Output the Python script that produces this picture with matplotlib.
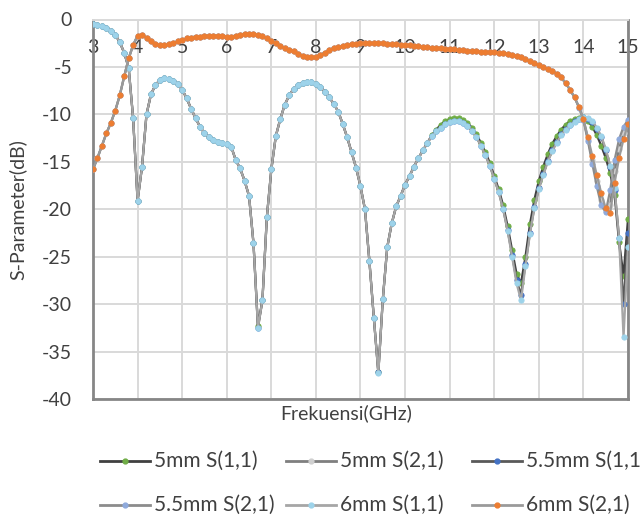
import matplotlib
matplotlib.use("Agg")
import matplotlib.pyplot as plt
from matplotlib.lines import Line2D
import numpy as np

plt.rcParams["font.family"] = ["Lato", "DejaVu Sans"]

# frequency grid (GHz), 0.1 GHz steps from 3 to 15
freq = np.round(np.arange(3.0, 15.0001, 0.1), 1)

s11_5mm = [
    -0.5, -0.6, -0.7, -0.9, -1.2, -1.6, -2.4, -3.5, -5.1, -10.4,
    -19.1, -15.5, -10.0, -7.9, -6.9, -6.4, -6.2, -6.3, -6.5, -6.8,
    -7.4, -8.3, -9.4, -10.4, -11.3, -12.0, -12.4, -12.7, -12.9, -13.0,
    -13.1, -13.4, -14.8, -15.7, -17.0, -18.6, -23.6, -32.3, -29.6, -20.8,
    -15.8, -12.3, -10.5, -9.0, -8.0, -7.3, -6.9, -6.7, -6.6, -6.6,
    -6.8, -7.1, -7.6, -8.2, -8.9, -9.7, -11.0, -12.4, -14.0, -15.6,
    -17.6, -20.0, -25.5, -31.5, -37.2, -29.5, -24.0, -21.5, -19.7, -18.6,
    -17.4, -16.5, -15.5, -14.6, -13.8, -13.0, -12.2, -11.6, -11.1, -10.7,
    -10.5, -10.4, -10.4, -10.6, -10.9, -11.4, -12.1, -13.0, -14.0, -15.1,
    -16.5, -17.9, -19.6, -21.8, -24.3, -26.8, -27.8, -25.0, -21.6, -19.0,
    -17.0, -15.5, -14.2, -13.1, -12.3, -11.6, -11.1, -10.7, -10.5, -10.4,
    -10.3, -10.7, -11.3, -12.2, -13.3, -14.6, -16.2, -18.5, -23.5, -27.0,
    -21.0,
]

s21_5mm = [
    -15.8, -14.6, -13.3, -12.0, -10.9, -9.6, -8.0, -6.0, -4.1, -2.7,
    -1.7, -1.6, -1.9, -2.3, -2.6, -2.7, -2.7, -2.6, -2.5, -2.3,
    -2.2, -2.0, -1.9, -1.8, -1.8, -1.7, -1.7, -1.7, -1.7, -1.7,
    -1.8, -1.8, -1.7, -1.6, -1.5, -1.5, -1.5, -1.6, -1.7, -2.0,
    -2.3, -2.5, -2.8, -3.0, -3.2, -3.3, -3.6, -3.8, -4.0, -4.0,
    -3.9, -3.7, -3.5, -3.2, -3.0, -2.9, -2.8, -2.7, -2.6, -2.6,
    -2.5, -2.5, -2.5, -2.5, -2.5, -2.5, -2.6, -2.6, -2.6, -2.7,
    -2.7, -2.7, -2.8, -2.8, -2.9, -2.9, -3.0, -3.0, -3.0, -3.1,
    -3.1, -3.1, -3.2, -3.2, -3.3, -3.3, -3.3, -3.4, -3.4, -3.4,
    -3.4, -3.5, -3.5, -3.6, -3.7, -3.8, -4.0, -4.2, -4.4, -4.6,
    -4.8, -5.0, -5.2, -5.4, -5.7, -6.1, -6.7, -7.4, -8.2, -9.2,
    -10.5, -12.6, -14.8, -17.0, -19.0, -20.2, -19.5, -16.0, -13.6, -12.0,
    -10.8,
]

s11_55mm = [
    -0.5, -0.6, -0.7, -0.9, -1.2, -1.6, -2.4, -3.5, -5.1, -10.4,
    -19.1, -15.5, -10.0, -7.9, -6.9, -6.4, -6.2, -6.3, -6.5, -6.8,
    -7.4, -8.3, -9.4, -10.4, -11.3, -12.0, -12.4, -12.7, -12.9, -13.0,
    -13.1, -13.4, -14.8, -15.7, -17.0, -18.6, -23.6, -32.5, -29.6, -20.8,
    -15.8, -12.3, -10.5, -9.0, -8.0, -7.3, -6.9, -6.7, -6.6, -6.6,
    -6.8, -7.1, -7.6, -8.2, -8.9, -9.7, -11.0, -12.4, -14.0, -15.6,
    -17.6, -20.0, -25.5, -31.5, -37.2, -29.5, -24.0, -21.5, -19.7, -18.6,
    -17.4, -16.5, -15.5, -14.6, -13.8, -13.0, -12.3, -11.8, -11.4, -11.0,
    -10.8, -10.7, -10.7, -10.9, -11.2, -11.7, -12.4, -13.3, -14.3, -15.4,
    -16.8, -18.2, -20.0, -22.2, -24.8, -27.5, -29.0, -25.8, -22.5, -19.8,
    -17.8, -16.3, -14.9, -13.8, -12.9, -12.1, -11.5, -11.1, -10.7, -10.5,
    -10.3, -10.5, -10.8, -11.5, -12.4, -13.8, -15.5, -18.0, -23.0, -30.0,
    -22.5,
]

s21_55mm = [
    -15.8, -14.6, -13.3, -12.0, -10.9, -9.6, -8.0, -6.0, -4.1, -2.7,
    -1.7, -1.6, -1.9, -2.3, -2.6, -2.7, -2.7, -2.6, -2.5, -2.3,
    -2.2, -2.0, -1.9, -1.8, -1.8, -1.7, -1.7, -1.7, -1.7, -1.7,
    -1.8, -1.8, -1.7, -1.6, -1.5, -1.5, -1.5, -1.6, -1.7, -2.0,
    -2.3, -2.5, -2.8, -3.0, -3.2, -3.3, -3.6, -3.8, -4.0, -4.0,
    -3.9, -3.7, -3.5, -3.2, -3.0, -2.9, -2.8, -2.7, -2.6, -2.6,
    -2.5, -2.5, -2.5, -2.5, -2.5, -2.5, -2.6, -2.6, -2.6, -2.7,
    -2.7, -2.7, -2.8, -2.8, -2.9, -2.9, -3.0, -3.0, -3.0, -3.1,
    -3.1, -3.1, -3.2, -3.2, -3.3, -3.3, -3.3, -3.4, -3.4, -3.4,
    -3.4, -3.5, -3.5, -3.6, -3.7, -3.8, -4.0, -4.2, -4.4, -4.6,
    -4.8, -5.0, -5.2, -5.4, -5.7, -6.1, -6.7, -7.4, -8.2, -9.3,
    -10.6, -12.8, -15.2, -17.6, -19.6, -20.3, -18.0, -14.8, -12.6, -11.3,
    -10.6,
]

s11_6mm = [
    -0.5, -0.6, -0.7, -0.9, -1.2, -1.6, -2.4, -3.5, -5.1, -10.4,
    -19.1, -15.5, -10.0, -7.9, -6.9, -6.4, -6.2, -6.3, -6.5, -6.8,
    -7.4, -8.3, -9.4, -10.4, -11.3, -12.0, -12.4, -12.7, -12.9, -13.0,
    -13.1, -13.4, -14.8, -15.7, -17.0, -18.6, -23.6, -32.5, -29.6, -20.8,
    -15.8, -12.3, -10.5, -9.0, -8.0, -7.3, -6.9, -6.7, -6.6, -6.6,
    -6.8, -7.1, -7.6, -8.2, -8.9, -9.7, -11.0, -12.4, -14.0, -15.6,
    -17.6, -20.0, -25.5, -31.5, -37.3, -29.5, -24.0, -21.5, -19.7, -18.6,
    -17.4, -16.5, -15.5, -14.6, -13.8, -13.0, -12.3, -11.8, -11.4, -11.0,
    -10.8, -10.7, -10.7, -10.9, -11.2, -11.7, -12.4, -13.3, -14.3, -15.4,
    -16.8, -18.2, -20.0, -22.3, -25.0, -27.8, -29.6, -26.0, -22.6, -19.9,
    -17.9, -16.4, -15.0, -13.9, -13.0, -12.2, -11.6, -11.1, -10.8, -10.5,
    -10.3, -10.4, -10.7, -11.4, -12.3, -13.6, -15.4, -17.8, -23.0, -33.5,
    -24.0,
]

s21_6mm = [
    -15.8, -14.6, -13.3, -12.0, -10.9, -9.6, -8.0, -6.0, -4.1, -2.7,
    -1.7, -1.6, -1.9, -2.3, -2.6, -2.7, -2.7, -2.6, -2.5, -2.3,
    -2.2, -2.0, -1.9, -1.8, -1.8, -1.7, -1.7, -1.7, -1.7, -1.7,
    -1.8, -1.8, -1.7, -1.6, -1.5, -1.5, -1.5, -1.6, -1.7, -2.0,
    -2.3, -2.5, -2.8, -3.0, -3.2, -3.3, -3.6, -3.8, -4.0, -4.0,
    -3.9, -3.7, -3.5, -3.2, -3.0, -2.9, -2.8, -2.7, -2.6, -2.6,
    -2.5, -2.5, -2.5, -2.5, -2.5, -2.5, -2.6, -2.6, -2.6, -2.7,
    -2.7, -2.7, -2.8, -2.8, -2.9, -2.9, -3.0, -3.0, -3.0, -3.1,
    -3.1, -3.1, -3.2, -3.2, -3.3, -3.3, -3.3, -3.4, -3.4, -3.4,
    -3.4, -3.5, -3.5, -3.6, -3.7, -3.8, -4.0, -4.2, -4.4, -4.6,
    -4.8, -5.0, -5.2, -5.4, -5.7, -6.1, -6.7, -7.4, -8.2, -9.2,
    -10.5, -12.4, -14.4, -16.4, -18.3, -19.9, -20.4, -17.2, -14.6, -12.6,
    -11.0,
]

labels = ["5mm S(1,1)", "5mm S(2,1)", "5.5mm S(1,1)",
          "5.5mm S(2,1)", "6mm S(1,1)", "6mm S(2,1)"]
x_ticks = list(range(3, 16))
y_ticks = list(range(0, -45, -5))

series = [s11_5mm, s21_5mm, s11_55mm, s21_55mm, s11_6mm, s21_6mm]
line_colors = ["#404040", "#7f7f7f", "#595959", "#8c8c8c", "#a6a6a6", "#9a9a9a"]
marker_colors = ["#70AD47", "#d0d0d0", "#4472C4", "#8FAADC", "#9DD3EA", "#ED7D31"]

W, H = 640, 517
fig = plt.figure(figsize=(W / 100, H / 100), dpi=100)
ax = fig.add_axes([93 / W, 1 - 399 / H, 535 / W, 379.5 / H])

for vals, lc, mc in zip(series, line_colors, marker_colors):
    ax.plot(freq, vals, color=lc, lw=1.6, marker="o", markersize=3.8,
            markerfacecolor=mc, markeredgecolor=mc, markeredgewidth=0.6,
            zorder=3)

ax.set_xlim(3, 15)
ax.set_ylim(-40, 0)
ax.set_xticks(x_ticks)
ax.set_yticks(y_ticks)
ax.set_yticklabels([str(v) for v in y_ticks])
ax.tick_params(axis="both", length=0, labelsize=14, colors="#404040")
ax.tick_params(axis="y", pad=15)
ax.tick_params(axis="x", labelbottom=False)
ax.grid(True, color="#d9d9d9", lw=1.4, zorder=0)
ax.set_axisbelow(True)

# x tick labels sit just under the 0 dB line, like the original
for xv in x_ticks:
    ax.text(xv, -2.9, str(xv), ha="center", va="center", fontsize=14,
            color="#404040", zorder=2)

for side in ["left", "bottom", "right"]:
    ax.spines[side].set_color("#868686")
    ax.spines[side].set_linewidth(2)
ax.spines["top"].set_color("#d9d9d9")
ax.spines["top"].set_linewidth(1.4)

fig.text(346 / W, 1 - 413 / H, "Frekuensi(GHz)", ha="center", va="center",
         fontsize=14, color="#404040")
fig.text(18 / W, 1 - 210 / H, "S-Parameter(dB)", ha="center", va="center",
         rotation=90, fontsize=14, color="#404040")

# legend laid out by hand: 3 columns x 2 rows (pixel positions of the original)
col_x = [100, 286, 472]
row_y = [461, 505]
for i, (lab, lc, mc) in enumerate(zip(labels, line_colors, marker_colors)):
    x0 = col_x[i % 3]
    y = 1 - row_y[i // 3] / H
    xs = [x0 / W, (x0 + 25) / W, (x0 + 50) / W]
    fig.add_artist(Line2D(xs, [y, y, y], transform=fig.transFigure, color=lc,
                          lw=2, marker="o", markersize=3.5, markevery=[1],
                          markerfacecolor=mc, markeredgecolor=mc))
    fig.text((x0 + 54) / W, y, lab, ha="left", va="center", fontsize=15,
             color="#404040")

fig.savefig("out.png", dpi=100)
